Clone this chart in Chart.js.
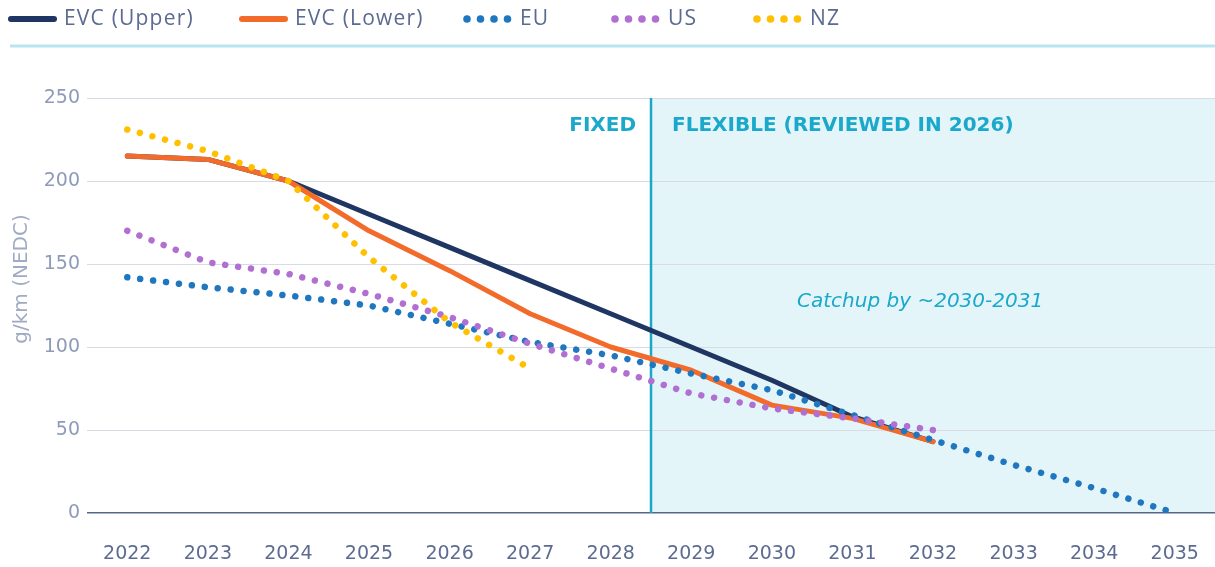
<!DOCTYPE html>
<html><head><meta charset="utf-8">
<script src="https://cdn.jsdelivr.net/npm/chart.js@4/dist/chart.umd.min.js"></script>
<style>html,body{margin:0;padding:0;background:#fff;overflow:hidden}#wrap{width:1215px;height:567px;position:relative}</style>
</head><body><div id="wrap"><canvas id="c"></canvas></div>
<script>
const years = ['2022','2023','2024','2025','2026','2027','2028','2029','2030','2031','2032','2033','2034','2035'];
const evcUpper = [215,213,200,180,160,140,120,100,80,58,43,null,null,null];
const evcLower = [215,213,200,170,146,120,100,86,65,57,43,null,null,null];
const eu = [142,136,131,125,114,103,95,84,74,59,44,29,15,0];
const us = [170,151,144,132,118,102,87,72,63,57,50,null,null,null];
const nz = [231,218,200,154,115,87,null,null,null,null,null,null,null,null];
const yTicks = [0,50,100,150,200,250];
const seriesNames = ['EVC (Upper)','EVC (Lower)','EU','US','NZ'];
const splitIndex = 6.5; // boundary between fixed and flexible periods
const fixedLabel = 'FIXED';
const flexLabel = 'FLEXIBLE (REVIEWED IN 2026)';
const catchupLabel = 'Catchup by ~2030-2031';
const catchupPos = {x: 9.84, y: 127};
const yTitle = 'g/km (NEDC)';

const FONT = '"DejaVu Sans", sans-serif';
const colors = ['#1f3562','#f36b2b','#1f77c0','#b26fd2','#ffc000'];
const dotted = [false,false,true,true,true];

const bgPlugin = {
  id: 'bg',
  beforeDraw(chart) {
    const {ctx, chartArea: a, scales: {x}} = chart;
    const sx = x.getPixelForValue(splitIndex);
    ctx.save();
    ctx.fillStyle = '#e3f5f9';
    ctx.fillRect(sx, a.top, a.right - sx, a.bottom - a.top);
    ctx.restore();
    ctx.save();
    ctx.strokeStyle = '#b8e5f0';
    ctx.lineWidth = 3;
    ctx.beginPath(); ctx.moveTo(10, 46); ctx.lineTo(chart.width, 46); ctx.stroke();
    ctx.restore();
    ctx.save();
    ctx.translate(22, 279);
    ctx.rotate(-Math.PI / 2);
    ctx.fillStyle = '#a0abc3';
    ctx.font = '20px ' + FONT;
    ctx.textAlign = 'center';
    ctx.textBaseline = 'middle';
    ctx.fillText(yTitle, 0, 0);
    ctx.restore();
  },
  beforeDatasetsDraw(chart) {
    const {ctx, chartArea: a, scales: {x}} = chart;
    const sx = x.getPixelForValue(splitIndex);
    ctx.save();
    ctx.strokeStyle = '#1aa7c9';
    ctx.lineWidth = 2.5;
    ctx.beginPath(); ctx.moveTo(sx, a.top); ctx.lineTo(sx, a.bottom); ctx.stroke();
    ctx.restore();
  },
  afterDatasetsDraw(chart) {
    const {ctx, chartArea: a, scales: {x, y}} = chart;
    const sx = x.getPixelForValue(splitIndex);
    ctx.save();
    ctx.fillStyle = '#1aa8cb';
    ctx.font = 'bold 20px ' + FONT;
    ctx.textBaseline = 'middle';
    ctx.textAlign = 'right';
    ctx.fillText(fixedLabel, sx - 15, a.top + 28);
    ctx.textAlign = 'left';
    ctx.fillText(flexLabel, sx + 21, a.top + 28);
    ctx.font = 'italic 20px ' + FONT;
    ctx.textAlign = 'center';
    ctx.fillText(catchupLabel, x.getPixelForValue(catchupPos.x), y.getPixelForValue(catchupPos.y));
    ctx.restore();
    const xs = [8, 239, 463, 611, 753];
    const ly = 19;
    ctx.save();
    ctx.font = '21px "Open Sans", sans-serif';
    ctx.letterSpacing = '1.2px';
    ctx.textBaseline = 'middle';
    ctx.textAlign = 'left';
    chart.data.datasets.forEach((ds, i) => {
      const x0 = xs[i];
      ctx.strokeStyle = ds.borderColor;
      ctx.fillStyle = ds.borderColor;
      if (!dotted[i]) {
        ctx.lineWidth = 6; ctx.lineCap = 'round';
        ctx.beginPath(); ctx.moveTo(x0 + 3, ly); ctx.lineTo(x0 + 46, ly); ctx.stroke();
      } else {
        for (let k = 0; k < 4; k++) {
          ctx.beginPath(); ctx.arc(x0 + 4 + k * 13.5, ly, 3.8, 0, Math.PI * 2); ctx.fill();
        }
      }
      ctx.fillStyle = '#5b6a90';
      ctx.fillText(ds.label, x0 + (dotted[i] ? 57 : 56), ly);
    });
    ctx.restore();
  }
};

const datasets = [evcUpper, evcLower, eu, us, nz].map((d, i) => ({
  label: seriesNames[i],
  data: d,
  borderColor: colors[i],
  backgroundColor: colors[i],
  borderWidth: dotted[i] ? 6.5 : 5,
  borderDash: dotted[i] ? [0.01, 13] : [],
  borderCapStyle: 'round',
  borderJoinStyle: 'round',
  pointRadius: 0,
  tension: 0,
  spanGaps: false,
  order: [4,3,2,1,0][i]
}));

new Chart(document.getElementById('c'), {
  type: 'line',
  data: { labels: years, datasets },
  options: {
    responsive: true,
    maintainAspectRatio: false,
    animation: false,
    events: [],
    layout: { autoPadding: false, padding: { top: 98, right: 0, bottom: 0, left: 0 } },
    plugins: { legend: { display: false }, tooltip: { enabled: false } },
    scales: {
      x: {
        offset: true,
        grid: { display: false, drawTicks: false },
        border: { display: false },
        ticks: { color: '#5c6b90', font: { family: FONT, size: 19 }, padding: 30, maxRotation: 0 },
        afterFit(s) { s.height = 54; s.paddingLeft = 0; s.paddingRight = 0; }
      },
      y: {
        min: 0, max: 250,
        afterBuildTicks(s) { s.ticks = yTicks.map(v => ({ value: v })); },
        grid: {
          color: c => c.tick && c.tick.value === 0 ? '#566688' : '#d8dbe4',
          lineWidth: c => c.tick && c.tick.value === 0 ? 1.5 : 1,
          drawTicks: false
        },
        border: { display: false },
        ticks: { color: '#8e9bb8', font: { family: FONT, size: 19 }, padding: 7 },
        afterFit(s) { s.width = 87; s.paddingTop = 0; s.paddingBottom = 0; }
      }
    }
  },
  plugins: [bgPlugin]
});
</script></body></html>
